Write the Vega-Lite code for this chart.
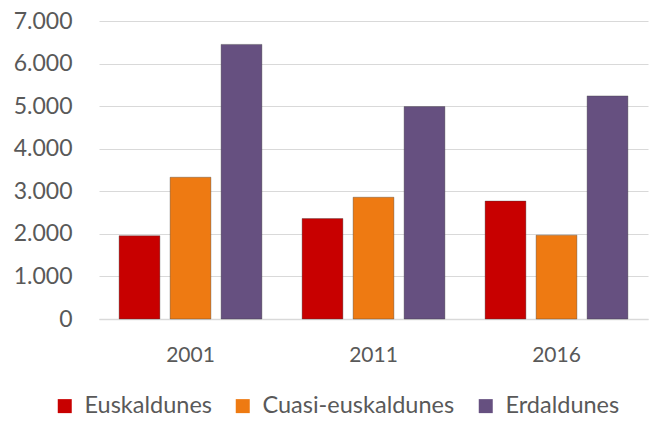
{
  "$schema": "https://vega.github.io/schema/vega-lite/v6.json",
  "width": 549,
  "height": 298,
  "autosize": "none",
  "padding": {"left": 99, "top": 21, "right": 6, "bottom": 103},
  "background": "white",
  "data": {
    "values": [
      {"year": "2001", "group": "Euskaldunes", "value": 1955},
      {"year": "2001", "group": "Cuasi-euskaldunes", "value": 3330},
      {"year": "2001", "group": "Erdaldunes", "value": 6450},
      {"year": "2011", "group": "Euskaldunes", "value": 2360},
      {"year": "2011", "group": "Cuasi-euskaldunes", "value": 2860},
      {"year": "2011", "group": "Erdaldunes", "value": 4990},
      {"year": "2016", "group": "Euskaldunes", "value": 2770},
      {"year": "2016", "group": "Cuasi-euskaldunes", "value": 1970},
      {"year": "2016", "group": "Erdaldunes", "value": 5240}
    ]
  },
  "config": {
    "view": {"stroke": null},
    "font": "Lato",
    "axis": {"labelFont": "Lato", "labelColor": "#595959", "title": null},
    "legend": {"labelFont": "Lato"}
  },
  "mark": {"type": "bar", "stroke": "#3a3a3a", "strokeWidth": 0.6, "strokeOpacity": 0.6},
  "encoding": {
    "x": {
      "field": "year",
      "type": "nominal",
      "scale": {"paddingInner": 0, "paddingOuter": 0},
      "axis": {
        "labelAngle": 0,
        "labelFontSize": 21,
        "ticks": false,
        "domainColor": "#d9d9d9",
        "domainWidth": 1.5,
        "labelPadding": 25,
        "grid": false
      }
    },
    "xOffset": {
      "field": "group",
      "type": "nominal",
      "sort": ["Euskaldunes", "Cuasi-euskaldunes", "Erdaldunes"],
      "scale": {"paddingInner": 0.2, "paddingOuter": 0.394}
    },
    "y": {
      "field": "value",
      "type": "quantitative",
      "scale": {"domain": [0, 7000], "nice": false},
      "axis": {
        "values": [0, 1000, 2000, 3000, 4000, 5000, 6000, 7000],
        "labelExpr": "replace(format(datum.value, ','), ',', '.')",
        "labelFontSize": 23,
        "domain": false,
        "ticks": false,
        "gridColor": "#d9d9d9",
        "gridWidth": 1.2,
        "labelPadding": 27
      }
    },
    "color": {
      "field": "group",
      "type": "nominal",
      "sort": ["Euskaldunes", "Cuasi-euskaldunes", "Erdaldunes"],
      "scale": {
        "domain": ["Euskaldunes", "Cuasi-euskaldunes", "Erdaldunes"],
        "range": ["#c80000", "#ee7a12", "#665080"]
      },
      "legend": {
        "orient": "none",
        "legendX": -46,
        "legendY": 373,
        "direction": "horizontal",
        "title": null,
        "symbolType": "square",
        "symbolSize": 196,
        "symbolStrokeWidth": 0,
        "labelFontSize": 23.5,
        "labelColor": "#595959",
        "labelLimit": 400,
        "columnPadding": 19,
        "labelOffset": 8
      }
    }
  }
}
